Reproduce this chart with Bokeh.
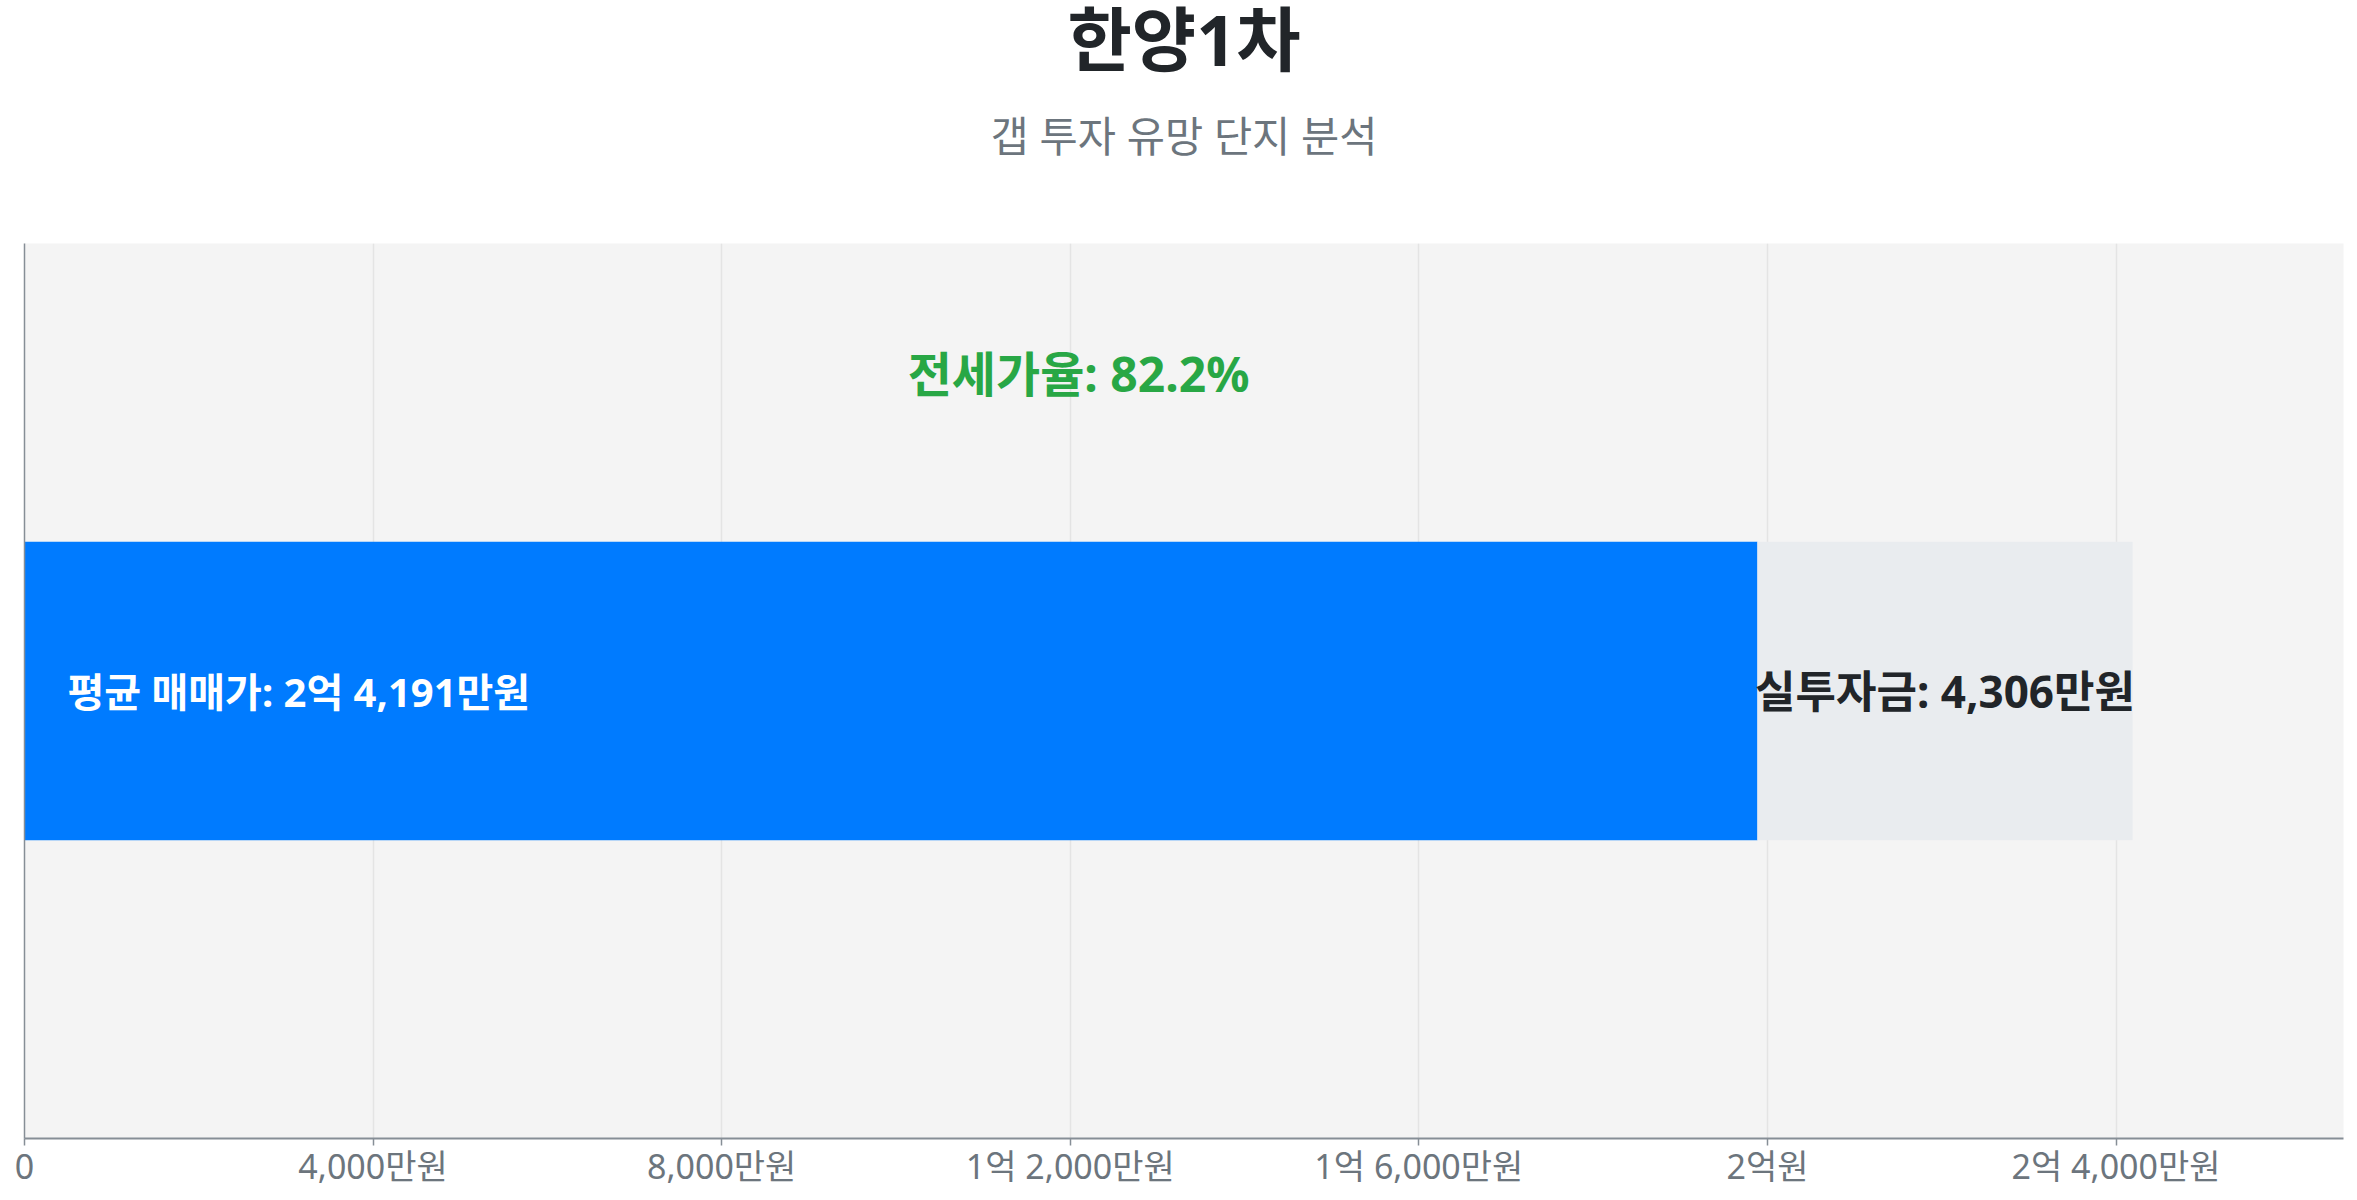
from bokeh.plotting import figure
from bokeh.models import (ColumnDataSource, Range1d, FactorRange, FixedTicker, Title)
from bokeh.transform import dodge
from bokeh.core.properties import value
from bokeh.embed import file_html
from bokeh.resources import INLINE

# ---- data ----
categories = ["한양1차"]
sale_price = [24191]          # 평균 매매가 (만원)
gap_invest = [4306]           # 실투자금 (만원)
jeonse_rate = [82.2]          # 전세가율 (%)
tick_values = [0, 4000, 8000, 12000, 16000, 20000, 24000]
tick_labels = ["0", "4,000만원", "8,000만원", "1억 2,000만원", "1억 6,000만원", "2억원", "2억 4,000만원"]

title_text = "한양1차"
subtitle_text = "갭 투자 유망 단지 분석"

jeonse = [s - g for s, g in zip(sale_price, gap_invest)]

def fmt_won(v):
    eok, man = divmod(v, 10000)
    if eok and man:
        return f"{eok}억 {man:,}만원"
    if eok:
        return f"{eok}억원"
    return f"{man:,}만원"

src = ColumnDataSource(dict(
    cat=categories,
    sale=sale_price,
    gap=gap_invest,
    jeonse=jeonse,
    gap_mid=[(j + s) / 2 for j, s in zip(jeonse, sale_price)],
    half=[s / 2 for s in sale_price],
    zero=[0] * len(categories),
    sale_lbl=[f"평균 매매가: {fmt_won(s)}" for s in sale_price],
    gap_lbl=[f"실투자금: {g:,}만원" for g in gap_invest],
    rate_lbl=[f"전세가율: {r}%" for r in jeonse_rate],
))

FONT = "'Noto Sans', 'Noto Sans CJK KR', sans-serif"

p = figure(width=2357, height=1200, output_backend="svg", toolbar_location=None,
           x_range=Range1d(0, sale_price[0] * 1.1),
           y_range=FactorRange(factors=categories),
           min_border_left=24, min_border_right=14, min_border_top=0, min_border_bottom=62)

p.background_fill_color = "#f4f4f4"
p.border_fill_color = "white"
p.outline_line_color = None

# spacer between subtitle and plot area
spacer = Title(text=" ", align="center", text_font=FONT, text_font_size="10px",
               text_color="white", standoff=33)
p.add_layout(spacer, "above")
sub = Title(text=subtitle_text, align="center", text_font=FONT, text_font_size="41.5px",
            text_font_style="normal", text_color="#6c757d", standoff=62, offset=-5)
p.add_layout(sub, "above")
ttl = Title(text=title_text, align="center", text_font=FONT, text_font_size="70px",
            text_font_style="bold", text_color="#212529", standoff=-24, offset=-5)
p.add_layout(ttl, "above")

# bars
p.hbar(y="cat", left="zero", right="jeonse", height=1/3, source=src,
       fill_color="#007bff", line_color=None)
p.hbar(y="cat", left="jeonse", right="sale", height=1/3, source=src,
       fill_color="#e9ecef", line_color=None)

# labels
p.text(x="zero", y="cat", text="sale_lbl", source=src, x_offset=43,
       text_align="left", text_baseline="middle", text_color="white",
       text_font=value(FONT), text_font_style="bold", text_font_size="40px")
p.text(x="gap_mid", y="cat", text="gap_lbl", source=src,
       text_align="center", text_baseline="middle", text_color="#212529",
       text_font=value(FONT), text_font_style="bold", text_font_size="44px")
p.text(x="half", y=dodge("cat", 0.355, range=p.y_range), text="rate_lbl", source=src,
       text_align="center", text_baseline="middle", text_color="#28a745",
       text_font=value(FONT), text_font_style="bold", text_font_size="48px")

# axes
xa = p.xaxis[0]
xa.ticker = FixedTicker(ticks=tick_values)
xa.major_label_overrides = {v: l for v, l in zip(tick_values, tick_labels)}
xa.major_label_text_font = FONT
xa.major_label_text_font_size = "34px"
xa.major_label_text_color = "#6c757d"
xa.major_label_standoff = -3
xa.axis_line_color = "#868e96"
xa.axis_line_width = 2
xa.major_tick_line_color = "#868e96"
xa.major_tick_line_width = 1.5
xa.major_tick_out = 7
xa.major_tick_in = 0
xa.minor_tick_line_color = None

ya = p.yaxis[0]
ya.axis_line_color = "#868e96"
ya.axis_line_width = 1.5
ya.major_tick_line_color = None
ya.minor_tick_line_color = None
ya.major_label_text_font_size = "0px"
ya.major_label_standoff = 0

p.xgrid.grid_line_color = "#e4e4e4"
p.xgrid.grid_line_width = 1.5
p.ygrid.grid_line_color = None

open("out.html", "w").write(file_html(p, INLINE))
